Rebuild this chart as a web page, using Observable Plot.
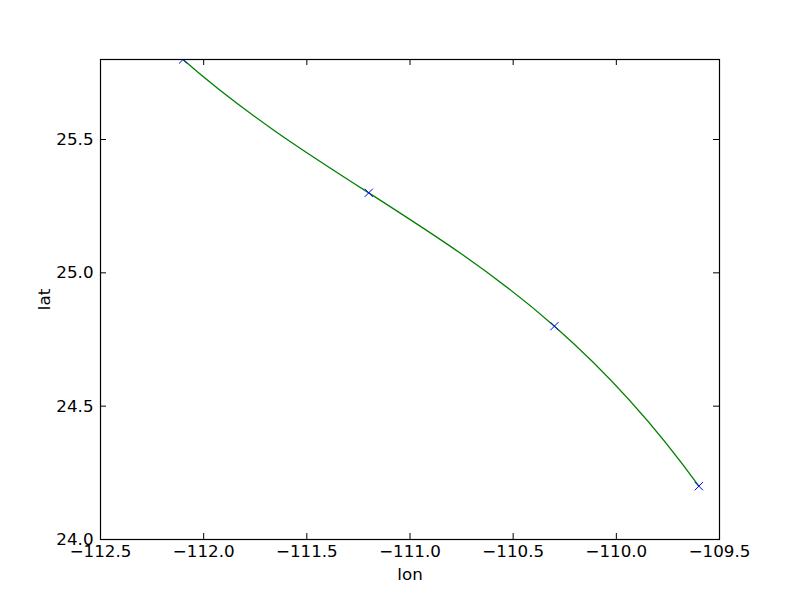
<!DOCTYPE html>
<html>
<head>
<meta charset="utf-8">
<script src="https://cdn.jsdelivr.net/npm/d3@7"></script>
<script src="https://cdn.jsdelivr.net/npm/@observablehq/plot@0.6"></script>
<style>
html, body { margin: 0; padding: 0; background: #fff; }
#chart svg { display: block; }
</style>
</head>
<body>
<div id="chart"></div>
<script>
const lon = [-112.1, -111.2, -110.3, -109.6];
const lat = [25.8, 25.3, 24.8, 24.2];
const xTicks = [-112.5, -112.0, -111.5, -111.0, -110.5, -110.0, -109.5];
const yTicks = [24.0, 24.5, 25.0, 25.5];

const pts = lon.map((x, i) => ({lon: x, lat: lat[i]}));
const fmt = d => d3.format(".1f")(d).replace("-", "\u2212");

// Custom curve: interpolating cubic y(x) (not-a-knot spline for 4 points),
// drawn as Hermite segments converted to Bezier curves.
function polyCurve(context) {
  let xs, ys;
  return {
    areaStart() {}, areaEnd() {},
    lineStart() { xs = []; ys = []; },
    point(x, y) { xs.push(+x); ys.push(+y); },
    lineEnd() {
      const n = xs.length;
      if (!n) return;
      context.moveTo(xs[0], ys[0]);
      if (n < 3) { for (let i = 1; i < n; i++) context.lineTo(xs[i], ys[i]); return; }
      const m = xs.map((xj, j) => {
        let s = 0;
        for (let i = 0; i < n; i++) {
          if (i === j) {
            let a = 0;
            for (let k = 0; k < n; k++) if (k !== j) a += 1 / (xj - xs[k]);
            s += ys[j] * a;
          } else {
            let num = 1, den = 1;
            for (let k = 0; k < n; k++) {
              if (k === i) continue;
              den *= xs[i] - xs[k];
              if (k !== j) num *= xj - xs[k];
            }
            s += ys[i] * num / den;
          }
        }
        return s;
      });
      for (let i = 0; i < n - 1; i++) {
        const h = xs[i + 1] - xs[i];
        context.bezierCurveTo(
          xs[i] + h / 3, ys[i] + m[i] * h / 3,
          xs[i + 1] - h / 3, ys[i + 1] - m[i + 1] * h / 3,
          xs[i + 1], ys[i + 1]
        );
      }
    }
  };
}

const W = 800, H = 600;
const mL = 100, mR = 81, mT = 59, mB = 61;
const iw = W - mL - mR, ih = H - mT - mB;
const tl = 6;

const plot = Plot.plot({
  width: W, height: H,
  marginLeft: mL, marginRight: mR, marginTop: mT, marginBottom: mB,
  style: {fontFamily: "DejaVu Sans", fontSize: "16.7px", color: "#000", background: "#fff"},
  x: {domain: [-112.5, -109.5], label: null},
  y: {domain: [24.0, 25.8], label: null},
  marks: [
    Plot.line(pts, {x: "lon", y: "lat", curve: polyCurve, stroke: "#008000", strokeWidth: 1.3, clip: true}),
    Plot.dot(pts, {x: "lon", y: "lat", symbol: "times", r: 3.8, stroke: "#0000ff", strokeWidth: 1, clip: true}),
    Plot.tickX(xTicks, {x: d => d, insetTop: ih - tl, stroke: "#000"}),
    Plot.tickX(xTicks, {x: d => d, insetBottom: ih - tl, stroke: "#000"}),
    Plot.tickY(yTicks, {y: d => d, insetRight: iw - tl, stroke: "#000"}),
    Plot.tickY(yTicks, {y: d => d, insetLeft: iw - tl, stroke: "#000"}),
    Plot.frame({stroke: "#000", strokeWidth: 1.2}),
    Plot.axisX(xTicks, {anchor: "bottom", tickSize: 0, tickPadding: 6, tickFormat: fmt, fontSize: 16.7, label: "lon", labelAnchor: "center", labelOffset: 40, labelArrow: "none"}),
    Plot.axisY(yTicks, {anchor: "left", tickSize: 0, tickPadding: 7, tickFormat: fmt, fontSize: 16.7, label: "lat", labelAnchor: "center", labelOffset: 62, labelArrow: "none"})
  ]
});
document.getElementById("chart").appendChild(plot);
</script>
</body>
</html>
